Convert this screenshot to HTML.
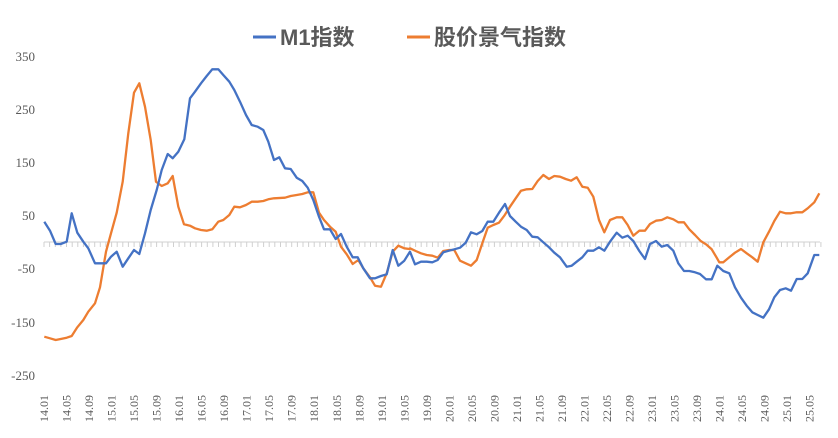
<!DOCTYPE html>
<html><head><meta charset="utf-8"><style>
body{margin:0;background:#fff;width:838px;height:438px;overflow:hidden}
svg{display:block}
text{font-family:"Liberation Serif","Noto Serif CJK SC",serif;fill:#595959}
</style></head><body>
<svg id="s" width="838" height="438" xmlns="http://www.w3.org/2000/svg">
<g font-size="13" text-anchor="end">
<text x="35" y="61">350</text><text x="35" y="114">250</text><text x="35" y="167">150</text>
<text x="35" y="220">50</text><text x="35" y="273">-50</text><text x="35" y="327">-150</text><text x="35" y="380">-250</text>
</g>
<line x1="44" y1="242" x2="820" y2="242" stroke="#d0d0d0" stroke-width="1"/>
<g id="ticks" stroke="#d0d0d0"></g>
<g id="xl" font-size="12"></g>
<line x1="253" y1="37" x2="276" y2="37" stroke="#4472C4" stroke-width="3"/>
<text x="280" y="45" font-size="22" font-weight="bold" style="font-family:'Liberation Sans','Noto Sans CJK SC',sans-serif">M1指数</text>
<line x1="407" y1="37" x2="430" y2="37" stroke="#ED7D31" stroke-width="3"/>
<text x="434" y="45" font-size="22" font-weight="bold" style="font-family:'Liberation Sans','Noto Sans CJK SC',sans-serif">股价景气指数</text>
<polyline id="o" fill="none" stroke="#ED7D31" stroke-width="2.3" stroke-linejoin="round"/>
<polyline id="b" fill="none" stroke="#4472C4" stroke-width="2.3" stroke-linejoin="round"/>
</svg>
<script>
var b1=[133,545,150,572,167,612,182,612,200,605,215,520,232,578,250,605,265,625,285,670,300,670,318,670,333,650,350,635,368,680,385,655,402,630,418,642,435,580,452,510,470,450,485,390,503,342,518,355,535,335,553,298,570,175,585,155,603,130,620,108,637,88,655,88,670,105,688,125,703,150,720,185,738,225,755,255,773,260,790,270,805,305,822,360,838,352,855,385,872,387,890,413,907,423,923,443,940,480,957,530,972,568,990,568,1007,597,1023,582,1040,620,1058,652,1073,652,1090,685,1110,715,1125,715,1143,708,1160,703,1178,630,1195,677,1213,662,1228,638];
var b2=[0,635,15,673,33,665,50,665,67,667,83,660,100,637,117,632,133,628,150,623,167,608,183,577,200,583,217,573,233,545,250,545,267,518,285,492,300,528,317,545,333,560,350,570,367,590,383,592,400,607,417,622,433,638,450,652,470,680,485,677,500,665,517,652,533,632,550,632,567,622,583,632,600,605,620,578,637,593,653,587,670,603,688,633,705,657,720,612,738,603,755,620,772,615,790,632,805,670,822,693,838,693,855,697,870,702,888,718,905,718,922,677,940,693,958,700,975,742,993,773,1010,797,1027,817,1043,825,1060,833,1077,808,1093,772,1110,750,1127,745,1143,752,1160,717,1177,717,1193,700,1213,645,1228,645];
var o1=[133,890,150,895,167,900,182,897,200,893,215,888,232,862,250,840,265,815,285,790,300,742,318,635,333,580,350,518,368,425,385,280,402,158,418,130,435,200,452,300,468,425,485,438,503,430,518,408,535,500,552,553,570,557,585,565,603,570,620,572,637,568,655,545,670,540,688,525,703,500,720,502,738,495,755,485,773,485,790,483,805,478,822,475,855,473,872,468,890,465,907,462,923,457,940,457,957,518,972,540,990,560,1007,575,1023,620,1040,643,1058,672,1075,660,1090,685,1110,712,1125,737,1143,740,1160,700,1178,635,1195,617,1213,625,1228,627];
var o2=[0,625,17,633,33,640,50,645,67,647,83,653,100,633,117,630,133,630,150,662,167,670,183,677,200,660,217,610,233,563,250,555,267,548,283,527,300,500,317,475,333,452,350,448,367,447,383,423,400,405,417,417,433,408,450,410,467,417,483,422,500,412,517,440,533,443,550,470,567,540,583,577,600,540,620,532,637,532,653,555,670,587,688,572,705,572,720,552,738,542,755,540,772,532,790,538,805,547,822,547,838,568,855,585,872,603,888,613,905,628,920,653,928,667,940,667,958,652,975,638,993,627,1010,640,1027,652,1043,665,1060,607,1077,575,1093,543,1110,515,1127,520,1143,520,1160,517,1177,517,1193,505,1213,487,1228,460];
function pts(a,ox){var s=[];for(var i=0;i<a.length;i+=2)s.push((ox+a[i]/3).toFixed(1)+','+(40+a[i+1]/3).toFixed(1));return s;}
document.getElementById('b').setAttribute('points',pts(b1,0).concat(pts(b2,410)).join(' '));
document.getElementById('o').setAttribute('points',pts(o1,0).concat(pts(o2,410)).join(' '));
var t='',xl='',step=5.63;
for(var m=0;m<=138;m++){var x=44+m*step;t+='<line x1="'+x.toFixed(1)+'" y1="242" x2="'+x.toFixed(1)+'" y2="247"/>';
if(m%4==0){var y=14+Math.floor(m/12),mo=m%12+1;var lab=y+'.'+(mo<10?'0':'')+mo;
xl+='<text transform="translate('+(x+4).toFixed(1)+',422) rotate(-90)">'+lab+'</text>';}}
document.getElementById('ticks').innerHTML=t;document.getElementById('xl').innerHTML=xl;
</script>
</body></html>
